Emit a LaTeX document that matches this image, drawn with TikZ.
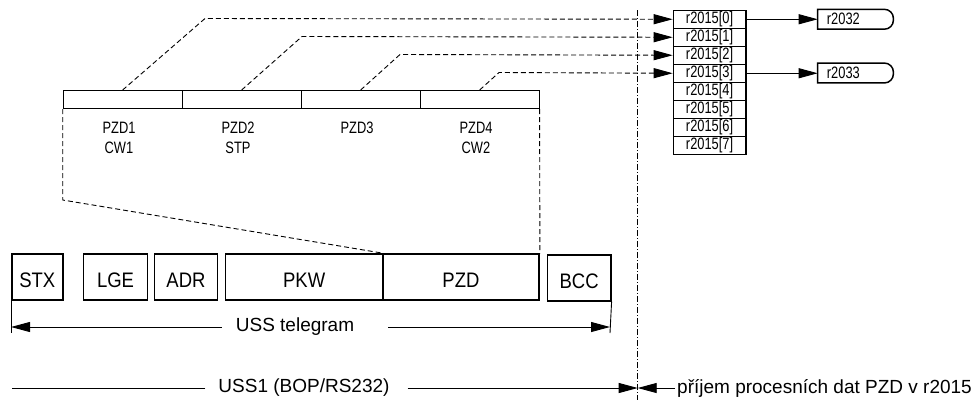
\documentclass[tikz,border=0pt]{standalone}
\usepackage{fontspec}
\setmainfont{Liberation Sans}
\newfontfamily\narrowfont[FakeStretch=0.78]{Liberation Sans}
\newfontfamily\semifont[FakeStretch=0.88]{Liberation Sans}
\usetikzlibrary{arrows.meta}
\begin{document}
\begin{tikzpicture}[x=1pt,y=-1pt,
  thinln/.style={line width=0.9pt},
  dsh/.style={line width=0.9pt, dash pattern=on 5pt off 3pt},
  dashdot/.style={line width=0.8pt, dash pattern=on 6pt off 2pt on 1pt off 2pt},
  tip/.style={-{Triangle[length=19pt,width=10pt]}},
  telebox/.style={draw, line width=1.6pt, inner sep=0pt, anchor=north west,
    minimum height=46pt, text height=21pt, text depth=0pt,
    font=\semifont\fontsize{21}{21}\selectfont},
  pzdbox/.style={draw, line width=0.9pt, inner sep=0pt, anchor=north west,
    minimum width=119pt, minimum height=18.3pt},
  pzdlbl/.style={inner sep=0pt, font=\narrowfont\fontsize{16.5}{16.5}\selectfont},
  regbox/.style={draw, line width=1.5pt, inner sep=0pt, anchor=north west,
    minimum width=72.3pt, minimum height=18pt, font=\narrowfont\fontsize{16.5}{16.5}\selectfont},
  outbox/.style={inner xsep=9pt, inner ysep=0pt, anchor=west, text width=57.3pt, align=left,
    minimum height=19.5pt, font=\narrowfont\fontsize{16.5}{16.5}\selectfont},
  biglbl/.style={inner ysep=0pt, font=\fontsize{19}{19}\selectfont}]
\useasboundingbox (0,0) rectangle (977,400);

% register r2015
\foreach \i in {0,...,7}{
  \node[regbox] (r\i) at (672.7,{9.5+18*\i}) {r2015[\i]};
}
% output boxes
\node[outbox] (o0) at (817.7,19.25) {r2032};
\node[outbox] (o3) at (817.7,73) {r2033};
\foreach \o in {o0,o3}{
  \draw[line width=1.5pt] (\o.south west) -- (\o.north west)
    [rounded corners=9pt] -- (\o.north east) -- (\o.south east)
    [sharp corners] -- cycle;
}
\draw[thinln,tip] (r0.east) -- (o0.west |- r0.east);
\draw[thinln,tip] (r3.east) -- (o3.west |- r3.east);

% PZD words
\foreach \k/\x in {1/62.7,2/181.7,3/300.7,4/419.7}{
  \node[pzdbox] (p\k) at (\x,90) {};
}
\node[pzdlbl] (l1a) at (119,128) {PZD1};
\node[pzdlbl] (l1b) at (119,148) {CW1};
\node[pzdlbl] (l2a) at (238,128) {PZD2};
\node[pzdlbl] (l2b) at (238,148) {STP};
\node[pzdlbl] (l3a) at (357,128) {PZD3};
\node[pzdlbl] (l4a) at (476,128) {PZD4};
\node[pzdlbl] (l4b) at (476,148) {CW2};

% corners of the dashed connectors
\coordinate (k1) at (205,18.5);
\coordinate (k2) at (302,36.5);
\coordinate (k3) at (400,54.5);
\coordinate (k4) at (499,72.5);
\draw[dsh,tip] (p1.north) -- (k1) -- (r0.west);
\draw[dsh,tip] (p2.north) -- (k2) -- (r1.west);
\draw[dsh,tip] (p3.north) -- (k3) -- (r2.west);
\draw[dsh,tip] (p4.north) -- (k4) -- (r3.west);

% telegram
\node[telebox, minimum width=51pt] (stx) at (11,253.3) {STX};
\node[telebox, minimum width=64pt] (lge) at (82.7,253.3) {LGE};
\node[telebox, minimum width=63pt] (adr) at (153.7,253.3) {ADR};
\node[telebox, minimum width=157.3pt] (pkw) at (224.7,253.3) {PKW};
\node[telebox, minimum width=156.3pt] (pzd) at (382,253.3) {PZD};
\node[telebox, minimum width=63.3pt] (bcc) at (546.7,254) {BCC};

% projection of PZD
\coordinate (c1) at (62.7,200);
\draw[dsh] (p1.south west) -- (c1) -- (pkw.north east);
\draw[dsh] (p4.south east) -- (pzd.north east);

% USS telegram dimension
\coordinate (tl) at (11,333);
\coordinate (tr) at (610,333);
\draw[thinln] (stx.south west) -- (tl);
\draw[thinln] (bcc.south east) -- (tr);
\node[biglbl, inner xsep=14pt] (tg) at (295,327) {USS telegram};
\draw[thinln,tip] (tg.west) -- (tg.west -| tl);
\draw[thinln,tip] ([xshift=20pt]tg.east) -- (tg.east -| tr);

% separator
\coordinate (vtop) at (637.7,10);
\coordinate (vbot) at (637.7,400);
\draw[dashdot] (vtop) -- (vbot);

% bottom line
\coordinate (mid) at (637.7,388);
\coordinate (bl) at (12,388);
\node[biglbl, inner xsep=0pt] (uss) at (304,388) {USS1 (BOP/RS232)};
\draw[thinln] ([xshift=-13pt]uss.west) -- (bl);
\draw[thinln,tip] ([xshift=18pt]uss.east) -- (mid);
\node[biglbl, inner xsep=2pt, anchor=west] (pj) at (675,388) {příjem procesních dat PZD v r2015};
\draw[thinln,tip] (pj.west) -- (mid);
\end{tikzpicture}
\end{document}
